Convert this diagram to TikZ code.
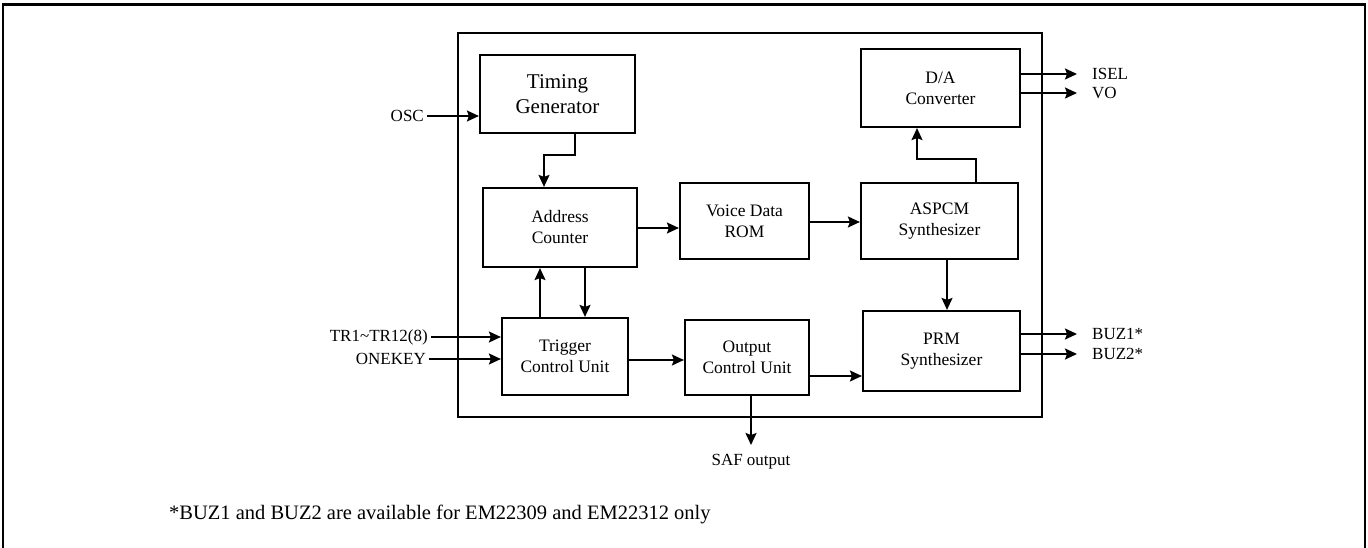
\documentclass[tikz,border=0pt]{standalone}
\usepackage{fontspec}
\setmainfont{Liberation Serif}
\usetikzlibrary{arrows.meta}
\begin{document}
\begin{tikzpicture}[x=1pt,y=-1pt,
  blk/.style={draw,line width=2.2pt,align=center,inner sep=0pt,font=\fontsize{17.5}{21}\selectfont},
  arr/.style={line width=1.8pt,-{Stealth[length=12pt,width=11pt,inset=2pt]}},
  lbl/.style={inner sep=0pt,font=\fontsize{17}{20}\selectfont},
  rl/.style={lbl,anchor=west,inner xsep=15pt}]
\useasboundingbox (0,0) rectangle (1368,548);
% outer frame
\draw[line width=1.6pt] (3,548) -- (3,5);
\draw[line width=1.6pt] (1365,5) -- (1365,548);
\draw[line width=3pt] (2.2,5) -- (1365.8,5);
% chip
\node[draw,line width=2.2pt,minimum width=584pt,minimum height=384pt,inner sep=0pt] (chip) at (750,225) {};
% blocks
\node[blk,minimum width=155pt,minimum height=78pt,font=\fontsize{21}{25}\selectfont] (TG) at (557.5,94) {Timing\\Generator};
\node[blk,minimum width=154pt,minimum height=79pt] (AC) at (560,227.5) {Address\\Counter};
\node[blk,minimum width=129pt,minimum height=76pt] (VR) at (744.5,221) {Voice Data\\ROM};
\node[blk,minimum width=157pt,minimum height=76pt] (AS) at (939.5,221) {ASPCM\\Synthesizer};
\node[blk,minimum width=159pt,minimum height=78pt] (DA) at (940.5,88) {D/A\\Converter};
\node[blk,minimum width=126pt,minimum height=77pt] (TC) at (565,356.5) {Trigger\\Control Unit};
\node[blk,minimum width=124pt,minimum height=75pt] (OC) at (747,357.5) {Output\\Control Unit};
\node[blk,minimum width=157pt,minimum height=80pt] (PRM) at (941.5,351) {PRM\\Synthesizer};
% labels
\node[lbl,anchor=east,inner xsep=3pt] (osc) at (427,116) {OSC};
\node[lbl,anchor=east,inner xsep=3pt] (tr) at (431,337) {TR1\textasciitilde TR12(8)};
\node[lbl,anchor=east,inner xsep=3pt] (onekey) at (429,359) {ONEKEY};
\node[rl] (isel) at (1077,74) {ISEL};
\node[rl] (vo) at (1077,93) {VO};
\node[rl] (buz1) at (1077,334) {BUZ1*};
\node[rl] (buz2) at (1077,354) {BUZ2*};
\node[lbl,anchor=north,inner ysep=9pt] (saf) at (751,445) {SAF output};
\node[inner sep=0pt,anchor=west,font=\fontsize{20.5}{24}\selectfont] (note) at (169,514) {*BUZ1 and BUZ2 are available for EM22309 and EM22312 only};
% connectors
\draw[arr] (osc.east) -- (osc.east -| TG.west);
\draw[arr] ([xshift=17.5pt]TG.south) -- ++(0,21) -| ([xshift=-16pt]AC.north);
\draw[arr] ([yshift=-0.5pt]AC.east) -- ([yshift=-0.5pt]AC.east -| VR.west);
\draw[arr] ([yshift=-1pt]VR.east) -- ([yshift=-1pt]AS.west);
\draw[arr] ([xshift=36.5pt]AS.north) -- ++(0,-23) -| ([xshift=-23.5pt]DA.south);
\draw[arr] ([yshift=14pt]DA.east) -- (isel.west);
\draw[arr] ([yshift=-5pt]DA.east) -- (vo.west);
\draw[arr] ([xshift=7.5pt]AS.south) -- ([xshift=7.5pt]AS.south |- PRM.north);
\draw[arr] ([xshift=-25pt]TC.north) -- ([xshift=-25pt]TC.north |- AC.south);
\draw[arr] ([xshift=25pt]AC.south) -- ([xshift=25pt]AC.south |- TC.north);
\draw[arr] (tr.east) -- (tr.east -| TC.west);
\draw[arr] (onekey.east) -- (onekey.east -| TC.west);
\draw[arr] ([yshift=-3.5pt]TC.east) -- ([yshift=-3.5pt]TC.east -| OC.west);
\draw[arr] ([yshift=-18.5pt]OC.east) -- ([yshift=-18.5pt]OC.east -| PRM.west);
\draw[arr] ([xshift=4pt]OC.south) -- (saf.north);
\draw[arr] ([yshift=17pt]PRM.east) -- (buz1.west);
\draw[arr] ([yshift=-3pt]PRM.east) -- (buz2.west);
\end{tikzpicture}
\end{document}
